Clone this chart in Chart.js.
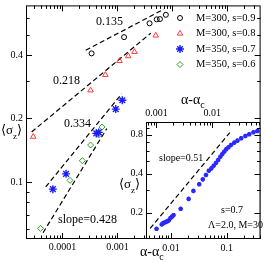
<!DOCTYPE html>
<html>
<head>
<meta charset="utf-8">
<script src="https://cdn.jsdelivr.net/npm/chart.js@4.4.1/dist/chart.umd.min.js"></script>
<style>
  html, body { margin: 0; padding: 0; background: #fff; }
  #wrap { position: relative; width: 266px; height: 263px; }
  #wrap canvas { position: absolute; left: 0; top: 0; }
</style>
</head>
<body>
<div id="wrap">
  <canvas id="mainChart" width="266" height="263"></canvas>
  <canvas id="insetChart" width="266" height="263"></canvas>
</div>
<script>
// ---- main panel data ----
var legendLabels = ['M=300, s=0.9', 'M=300, s=0.8', 'M=350, s=0.7', 'M=350, s=0.6'];

var circX = [3.39e-4, 1.32e-3, 3.84e-3, 5.18e-3, 5.93e-3, 7.59e-3];
var circY = [0.407, 0.486, 0.565, 0.590, 0.592, 0.620];

var triX = [2.95e-5, 3.25e-4, 6.03e-4, 1.09e-3, 1.57e-3, 2.04e-3, 4.97e-3];
var triY = [0.164, 0.272, 0.322, 0.375, 0.395, 0.414, 0.495];

var starX = [6.71e-5, 1.165e-4, 4.13e-4, 4.58e-4, 9.32e-4, 1.228e-3];
var starY = [0.0925, 0.1093, 0.170, 0.1718, 0.2216, 0.244];

var diaX = [4.0e-5, 1.373e-4, 2.305e-4, 3.254e-4, 4.58e-4, 5.24e-4];
var diaY = [0.0603, 0.1018, 0.1262, 0.1497, 0.1672, 0.1822];

// dashed fit lines, end points only
var fit135X = [2.65e-4, 6.99e-3];  var fit135Y = [0.421, 0.659];
var fit218X = [2.76e-5, 4.05e-3];  var fit218Y = [0.1727, 0.5076];
var fit334X = [4.97e-5, 1.2e-3];   var fit334Y = [0.0948, 0.262];
var fit428X = [4.45e-5, 6.4e-4];   var fit428Y = [0.0575, 0.179];

var mainXTicks = [1e-4, 1e-3];     var mainXLabels = ['0.0001', '0.001'];
var mainYTicks = [0.1, 0.2, 0.4];  var mainYLabels = ['0.1', '0.2', '0.4'];
var mainYMinor = [0.06, 0.07, 0.08, 0.09, 0.3, 0.5, 0.6];

// ---- inset data ----
var insetX = [0.00551, 0.00681, 0.00719, 0.00748, 0.00798, 0.00853, 0.00913, 0.00973,
  0.0104, 0.0111, 0.0149, 0.0207, 0.0252, 0.0320, 0.0371, 0.0423, 0.0476, 0.0530,
  0.0581, 0.0639, 0.0700, 0.0766, 0.0830, 0.0898, 0.0973, 0.107, 0.119, 0.136,
  0.155, 0.181, 0.215, 0.252, 0.300, 0.352];
var insetY = [0.150, 0.162, 0.165, 0.167, 0.169, 0.171, 0.174, 0.181,
  0.186, 0.191, 0.214, 0.255, 0.294, 0.331, 0.361, 0.390, 0.421, 0.439,
  0.460, 0.483, 0.509, 0.540, 0.566, 0.590, 0.616, 0.638, 0.665, 0.693,
  0.718, 0.749, 0.780, 0.804, 0.833, 0.852];
var insetFitX = [0.00423, 0.113];  var insetFitY = [0.151, 0.827];

var insetXTicks = [0.01, 0.1];     var insetXLabels = ['0.01', '0.1'];
var insetTopTicks = [0.001, 0.01]; var insetTopLabels = ['0.001', '0.01'];
var insetYTicks = [0.2, 0.4, 0.8]; var insetYLabels = ['0.2', '0.4', '0.8'];
var insetYMinor = [0.3, 0.5, 0.6, 0.7, 0.9];

var SERIF = '"Liberation Serif", "DejaVu Serif", serif';

function pts(xs, ys) {
  return xs.map(function (x, i) { return { x: x, y: ys[i] }; });
}

// multiples 2..9 of each decade inside the axis range
function logMinor(min, max) {
  var out = [];
  for (var e = Math.floor(Math.log10(min)); e <= Math.ceil(Math.log10(max)); e++) {
    for (var k = 2; k <= 9; k++) {
      var v = k * Math.pow(10, e);
      if (v > min && v < max) out.push(v);
    }
  }
  return out;
}
function logMajor(min, max) {
  var out = [];
  for (var e = Math.floor(Math.log10(min)); e <= Math.ceil(Math.log10(max)); e++) {
    var v = Math.pow(10, e);
    if (v > min && v < max) out.push(v);
  }
  return out;
}

function ticksX(ctx, sc, a, vals, len, top, bottom) {
  vals.forEach(function (v) {
    var p = Math.round(sc.getPixelForValue(v)) + 0.5;
    ctx.beginPath();
    if (bottom) { ctx.moveTo(p, a.bottom); ctx.lineTo(p, a.bottom - len); }
    if (top) { ctx.moveTo(p, a.top); ctx.lineTo(p, a.top + len); }
    ctx.stroke();
  });
}
function ticksY(ctx, sc, a, vals, len) {
  vals.forEach(function (v) {
    var p = Math.round(sc.getPixelForValue(v)) + 0.5;
    ctx.beginPath();
    ctx.moveTo(a.left, p); ctx.lineTo(a.left + len, p);
    ctx.moveTo(a.right, p); ctx.lineTo(a.right - len, p);
    ctx.stroke();
  });
}

// text with a subscript in the middle, e.g. <sigma_z>
function subText(ctx, x, y, base, sub, tail, size) {
  ctx.textAlign = 'left';
  ctx.textBaseline = 'middle';
  ctx.font = size + 'px ' + SERIF;
  ctx.fillText(base, x, y);
  x += ctx.measureText(base).width;
  ctx.font = Math.round(size * 0.7) + 'px ' + SERIF;
  ctx.fillText(sub, x, y + size * 0.4);
  x += ctx.measureText(sub).width;
  ctx.font = size + 'px ' + SERIF;
  ctx.fillText(tail, x, y);
}

function frame(ctx, a) {
  ctx.strokeStyle = '#000';
  ctx.lineWidth = 1;
  ctx.strokeRect(a.left + 0.5, a.top + 0.5, a.right - a.left - 1, a.bottom - a.top - 1);
}

var mainAxes = {
  id: 'mainAxes',
  afterDraw: function (chart) {
    var ctx = chart.ctx, a = chart.chartArea, xs = chart.scales.x, ys = chart.scales.y;
    ctx.save();
    frame(ctx, a);
    ticksX(ctx, xs, a, logMajor(xs.min, xs.max), 6, true, true);
    ticksX(ctx, xs, a, logMinor(xs.min, xs.max), 3.5, true, true);
    ticksY(ctx, ys, a, mainYTicks, 6);
    ticksY(ctx, ys, a, mainYMinor, 3.5);

    ctx.fillStyle = '#000';
    ctx.font = '10px ' + SERIF;
    ctx.textAlign = 'right';
    ctx.textBaseline = 'middle';
    mainYTicks.forEach(function (v, i) { ctx.fillText(mainYLabels[i], a.left - 3, ys.getPixelForValue(v)); });
    ctx.textAlign = 'center';
    ctx.textBaseline = 'top';
    mainXTicks.forEach(function (v, i) { ctx.fillText(mainXLabels[i], xs.getPixelForValue(v), a.bottom + 3); });

    subText(ctx, 1, 131, '\u27E8\u03C3', 'z', '\u27E9', 13);
    subText(ctx, 140, 252, '\u03B1-\u03B1', 'c', '', 14);

    // slope annotations
    ctx.font = '12px ' + SERIF;
    ctx.textAlign = 'left';
    ctx.textBaseline = 'middle';
    ctx.fillText('0.135', 96, 22);
    ctx.fillText('0.218', 53, 81);
    ctx.fillText('0.334', 64, 124);
    ctx.fillText('slope=0.428', 58, 220);

    // legend
    var rows = [18, 33.5, 49, 64.5];
    chart.data.datasets.slice(0, 4).forEach(function (ds, i) {
      ctx.strokeStyle = ds.borderColor;
      ctx.fillStyle = ds.backgroundColor;
      ctx.lineWidth = ds.borderWidth;
      Chart.helpers.drawPoint(ctx, { pointStyle: ds.pointStyle, radius: ds.pointRadius, borderWidth: ds.borderWidth, rotation: 0 }, 180, rows[i]);
      ctx.fillStyle = '#000';
      ctx.font = '10.5px ' + SERIF;
      ctx.fillText(legendLabels[i], 196, rows[i]);
    });
    ctx.restore();
  }
};

function fitLine(xs, ys) {
  return {
    data: pts(xs, ys), showLine: true, borderColor: '#000', borderWidth: 1.2,
    borderDash: [5, 3], pointRadius: 0, fill: false
  };
}

new Chart(document.getElementById('mainChart'), {
  type: 'scatter',
  data: {
    datasets: [
      { label: legendLabels[0], data: pts(circX, circY), pointStyle: 'circle', pointRadius: 2.5,
        borderColor: '#000', backgroundColor: 'rgba(0,0,0,0)', borderWidth: 1 },
      { label: legendLabels[1], data: pts(triX, triY), pointStyle: 'triangle', pointRadius: 3.2,
        borderColor: '#ff3b3b', backgroundColor: 'rgba(0,0,0,0)', borderWidth: 1 },
      { label: legendLabels[2], data: pts(starX, starY), pointStyle: 'star', pointRadius: 4,
        borderColor: '#1c1cff', backgroundColor: 'rgba(0,0,0,0)', borderWidth: 1.4 },
      { label: legendLabels[3], data: pts(diaX, diaY), pointStyle: 'rectRot', pointRadius: 3,
        borderColor: '#26a326', backgroundColor: 'rgba(0,0,0,0)', borderWidth: 1 },
      fitLine(fit135X, fit135Y),
      fitLine(fit218X, fit218Y),
      fitLine(fit334X, fit334Y),
      fitLine(fit428X, fit428Y)
    ]
  },
  options: {
    responsive: false,
    animation: false,
    devicePixelRatio: 1,
    layout: { padding: { left: 26, top: 1, right: 1, bottom: 24 } },
    scales: {
      x: { type: 'logarithmic', min: 2.18e-5, max: 0.4, display: false },
      y: { type: 'logarithmic', min: 0.0537, max: 0.687, display: false }
    },
    plugins: { legend: { display: false }, tooltip: { enabled: false } }
  },
  plugins: [mainAxes]
});

var insetAxes = {
  id: 'insetAxes',
  beforeDatasetsDraw: function (chart) {
    var ctx = chart.ctx, a = chart.chartArea;
    ctx.save();
    ctx.fillStyle = '#fff';
    ctx.fillRect(a.left, a.top, a.right - a.left, a.bottom - a.top);
    ctx.restore();
  },
  afterDraw: function (chart) {
    var ctx = chart.ctx, a = chart.chartArea;
    var xs = chart.scales.x, xt = chart.scales.x2, ys = chart.scales.y;
    ctx.save();
    frame(ctx, a);
    ticksX(ctx, xs, a, logMajor(xs.min, xs.max), 6, false, true);
    ticksX(ctx, xs, a, logMinor(xs.min, xs.max), 3.5, false, true);
    ticksX(ctx, xt, a, logMajor(xt.min, xt.max), 6, true, false);
    ticksX(ctx, xt, a, logMinor(xt.min, xt.max), 3.5, true, false);
    ticksY(ctx, ys, a, insetYTicks, 6);
    ticksY(ctx, ys, a, insetYMinor, 3.5);

    ctx.fillStyle = '#000';
    ctx.font = '10px ' + SERIF;
    ctx.textAlign = 'right';
    ctx.textBaseline = 'middle';
    insetYTicks.forEach(function (v, i) { ctx.fillText(insetYLabels[i], a.left - 3, ys.getPixelForValue(v)); });
    ctx.textAlign = 'center';
    ctx.textBaseline = 'top';
    insetXTicks.forEach(function (v, i) { ctx.fillText(insetXLabels[i], xs.getPixelForValue(v), a.bottom + 4); });
    ctx.textBaseline = 'bottom';
    insetTopTicks.forEach(function (v, i) { ctx.fillText(insetTopLabels[i], xt.getPixelForValue(v), a.top - 4); });

    subText(ctx, 119, 185, '\u27E8\u03C3', 'z', '\u27E9', 13);
    subText(ctx, 181, 100, '\u03B1-\u03B1', 'c', '', 14);

    ctx.font = '10px ' + SERIF;
    ctx.textAlign = 'left';
    ctx.textBaseline = 'middle';
    ctx.fillText('slope=0.51', 159, 158);
    ctx.fillText('s=0.7', 221, 210);
    ctx.fillText('\u039B=2.0, M=30', 208, 225);
    ctx.restore();
  }
};

new Chart(document.getElementById('insetChart'), {
  type: 'scatter',
  data: {
    datasets: [
      { data: pts(insetX, insetY), pointStyle: 'star', pointRadius: 2.3,
        borderColor: '#2a2aff', backgroundColor: '#2a2aff', borderWidth: 1.5 },
      fitLine(insetFitX, insetFitY)
    ]
  },
  options: {
    responsive: false,
    animation: false,
    devicePixelRatio: 1,
    layout: { padding: { left: 146, top: 122, right: 1, bottom: 24 } },
    scales: {
      x: { type: 'logarithmic', min: 0.003565, max: 0.4013, display: false },
      x2: { type: 'logarithmic', axis: 'x', position: 'top', min: 6.51e-4, max: 0.0733, display: false },
      y: { type: 'logarithmic', min: 0.1251, max: 1.0, display: false }
    },
    plugins: { legend: { display: false }, tooltip: { enabled: false } }
  },
  plugins: [insetAxes]
});
</script>
</body>
</html>
